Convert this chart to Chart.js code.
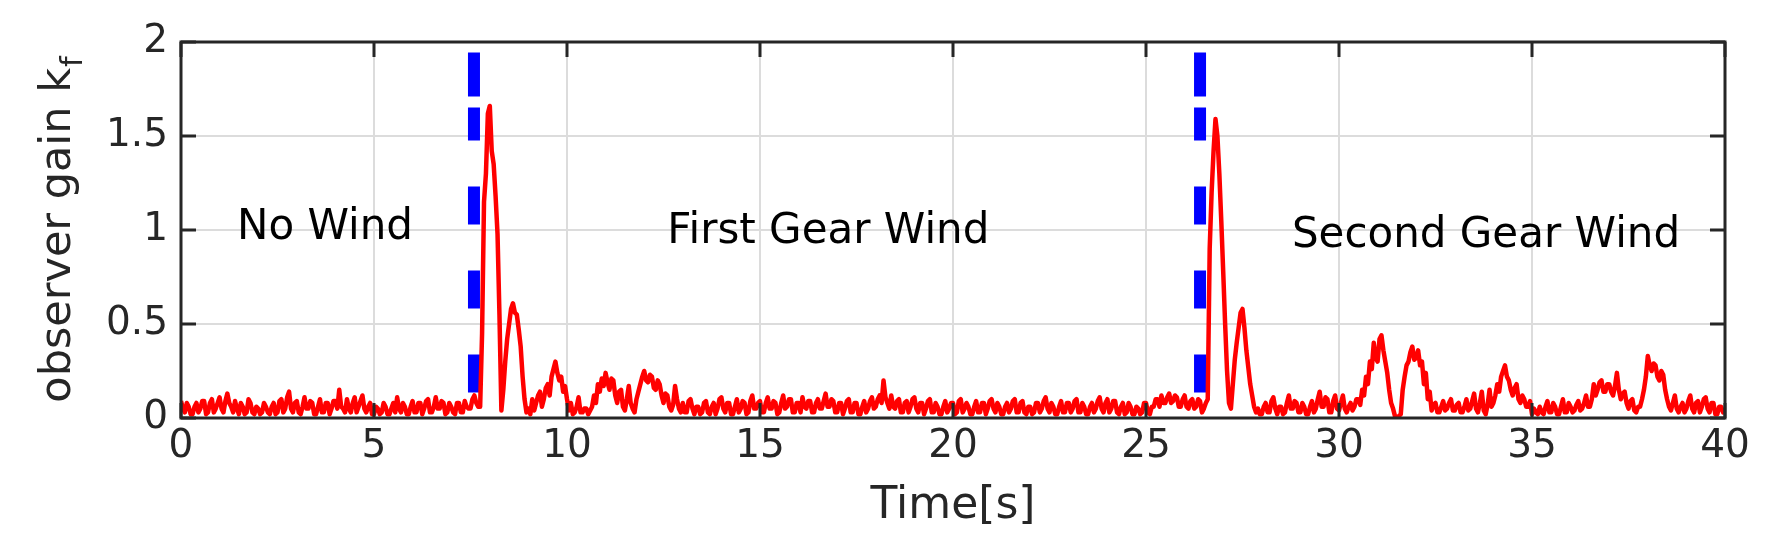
<!DOCTYPE html>
<html>
<head>
<meta charset="utf-8">
<script src="https://cdn.jsdelivr.net/npm/chart.js@4.4.0/dist/chart.umd.min.js"></script>
<style>
  html, body { margin: 0; padding: 0; background: #ffffff; }
  canvas { display: block; }
</style>
</head>
<body>
<canvas id="chart" width="1776" height="553"></canvas>
<script>
// ---- data ----
const sampleStep = 0.05;               // seconds between samples
const segmentStart = [0, 7.8, 26.65];  // start time of each segment [s]

// observer gain k_f, 0.00 s ... 7.75 s (one row per second)
const gainNoWind = [
  0.09,0.05,0.03,0.08,0.06,0.02,0.02,0.06,0.08,0.03,0.05,0.09,0.09,0.02,0.03,0.08,0.10,0.03,0.05,0.08,
  0.11,0.05,0.03,0.09,0.13,0.08,0.06,0.03,0.09,0.05,0.02,0.08,0.06,0.02,0.03,0.10,0.08,0.03,0.02,0.06,
  0.05,0.02,0.03,0.08,0.06,0.03,0.02,0.06,0.08,0.02,0.03,0.09,0.10,0.03,0.05,0.11,0.14,0.05,0.03,0.08,
  0.09,0.03,0.02,0.06,0.11,0.05,0.05,0.09,0.08,0.02,0.02,0.06,0.10,0.03,0.03,0.08,0.08,0.02,0.05,0.09,
  0.09,0.05,0.15,0.06,0.05,0.03,0.10,0.05,0.03,0.08,0.11,0.03,0.06,0.09,0.12,0.05,0.03,0.06,0.08,0.02,
  0.02,0.06,0.05,0.02,0.03,0.08,0.06,0.02,0.02,0.05,0.08,0.03,0.11,0.05,0.03,0.08,0.06,0.02,0.02,0.06,
  0.09,0.03,0.03,0.08,0.08,0.02,0.05,0.09,0.10,0.03,0.03,0.06,0.11,0.05,0.05,0.09,0.08,0.02,0.03,0.08,
  0.06,0.03,0.02,0.08,0.08,0.03,0.03,0.09,0.06,0.05,0.05,0.10,0.12,0.08,0.06,0.06
];

// observer gain k_f, 7.80 s ... 26.60 s
const gainFirstGear = [
  0.45,1.15,1.30,1.62,
  1.66,1.42,1.35,1.18,0.98,0.55,0.04,0.15,0.30,0.42,0.50,0.58,0.61,0.56,0.55,0.47,0.38,0.22,0.10,0.03,
  0.05,0.02,0.10,0.04,0.08,0.12,0.14,0.06,0.10,0.16,0.18,0.12,0.22,0.26,0.30,0.24,0.20,0.22,0.14,0.17,
  0.10,0.04,0.08,0.02,0.03,0.06,0.11,0.03,0.03,0.05,0.05,0.02,0.04,0.06,0.12,0.08,0.18,0.14,0.21,0.17,
  0.24,0.19,0.15,0.21,0.20,0.12,0.08,0.14,0.15,0.06,0.04,0.10,0.17,0.08,0.05,0.03,0.10,0.14,0.18,0.22,
  0.25,0.20,0.19,0.23,0.22,0.16,0.15,0.20,0.18,0.12,0.08,0.13,0.12,0.06,0.04,0.07,0.17,0.10,0.05,0.03,
  0.08,0.03,0.03,0.09,0.10,0.05,0.02,0.06,0.06,0.02,0.03,0.08,0.09,0.03,0.02,0.06,0.08,0.02,0.05,0.10,
  0.11,0.05,0.03,0.08,0.08,0.02,0.02,0.06,0.10,0.03,0.05,0.09,0.08,0.02,0.03,0.09,0.12,0.05,0.05,0.08,
  0.09,0.03,0.03,0.08,0.11,0.05,0.05,0.09,0.08,0.02,0.03,0.08,0.12,0.05,0.06,0.10,0.10,0.03,0.03,0.08,
  0.08,0.03,0.11,0.06,0.05,0.09,0.09,0.03,0.03,0.08,0.10,0.05,0.05,0.09,0.13,0.06,0.06,0.10,0.09,0.03,
  0.03,0.08,0.08,0.02,0.05,0.09,0.10,0.03,0.03,0.08,0.08,0.02,0.02,0.06,0.09,0.03,0.05,0.09,0.11,0.05,
  0.06,0.10,0.12,0.08,0.20,0.11,0.08,0.05,0.12,0.06,0.05,0.09,0.10,0.03,0.03,0.08,0.09,0.03,0.06,0.10,
  0.11,0.05,0.03,0.08,0.08,0.02,0.05,0.09,0.10,0.03,0.03,0.08,0.06,0.02,0.02,0.06,0.09,0.03,0.05,0.08,
  0.08,0.02,0.03,0.09,0.10,0.03,0.05,0.08,0.06,0.02,0.02,0.06,0.09,0.03,0.03,0.08,0.08,0.02,0.05,0.09,
  0.10,0.05,0.03,0.08,0.06,0.02,0.02,0.06,0.08,0.03,0.05,0.09,0.10,0.03,0.03,0.08,0.09,0.03,0.02,0.06,
  0.06,0.02,0.03,0.08,0.08,0.03,0.05,0.09,0.11,0.05,0.03,0.08,0.06,0.02,0.02,0.06,0.09,0.03,0.03,0.08,
  0.08,0.03,0.05,0.09,0.10,0.03,0.03,0.08,0.06,0.02,0.02,0.06,0.08,0.03,0.05,0.09,0.11,0.05,0.03,0.08,
  0.10,0.03,0.05,0.09,0.09,0.03,0.02,0.06,0.08,0.02,0.03,0.08,0.06,0.02,0.02,0.06,0.05,0.02,0.03,0.08,
  0.08,0.03,0.02,0.06,0.06,0.10,0.10,0.06,0.12,0.08,0.08,0.11,0.13,0.08,0.09,0.12,0.11,0.06,0.06,0.10,
  0.12,0.06,0.05,0.09,0.10,0.05,0.06,0.10,0.09,0.03,0.05,0.08,0.10
];

// observer gain k_f, 26.65 s ... 40.00 s
const gainSecondGear = [
  0.90,1.20,1.42,1.59,1.50,1.30,1.05,
  0.78,0.50,0.25,0.08,0.05,0.18,0.31,0.40,0.48,0.56,0.58,0.48,0.36,0.27,0.18,0.12,0.06,0.03,0.05,0.02,
  0.02,0.06,0.08,0.03,0.03,0.09,0.11,0.05,0.02,0.06,0.06,0.02,0.03,0.08,0.12,0.05,0.05,0.09,0.08,0.03,
  0.03,0.08,0.06,0.02,0.02,0.06,0.09,0.03,0.05,0.10,0.14,0.06,0.06,0.11,0.10,0.03,0.03,0.09,0.12,0.05,
  0.04,0.08,0.12,0.05,0.03,0.06,0.08,0.04,0.06,0.10,0.10,0.07,0.15,0.12,0.22,0.18,0.30,0.26,0.40,0.32,
  0.30,0.42,0.44,0.36,0.30,0.24,0.15,0.08,0.05,0.01,0.00,0.01,0.02,0.15,0.22,0.28,0.30,0.35,0.38,0.31,
  0.32,0.36,0.28,0.30,0.18,0.24,0.10,0.14,0.04,0.07,0.08,0.03,0.03,0.06,0.09,0.04,0.05,0.08,0.10,0.04,
  0.04,0.07,0.08,0.03,0.03,0.06,0.10,0.04,0.05,0.09,0.13,0.05,0.03,0.08,0.14,0.04,0.02,0.07,0.15,0.06,
  0.08,0.12,0.18,0.14,0.22,0.25,0.28,0.22,0.20,0.15,0.12,0.16,0.18,0.10,0.08,0.12,0.10,0.06,0.06,0.09,
  0.02,0.05,0.03,0.02,0.06,0.03,0.02,0.06,0.09,0.03,0.03,0.08,0.06,0.02,0.02,0.06,0.10,0.03,0.03,0.08,
  0.06,0.03,0.04,0.07,0.09,0.04,0.05,0.08,0.12,0.06,0.06,0.10,0.18,0.12,0.15,0.19,0.20,0.14,0.14,0.18,
  0.18,0.14,0.12,0.17,0.24,0.15,0.10,0.13,0.14,0.08,0.05,0.09,0.10,0.04,0.03,0.06,0.06,0.10,0.15,0.22,
  0.33,0.28,0.25,0.29,0.28,0.22,0.20,0.25,0.23,0.15,0.10,0.06,0.04,0.08,0.12,0.05,0.03,0.06,0.08,0.03,
  0.05,0.09,0.12,0.05,0.03,0.08,0.09,0.03,0.06,0.10,0.11,0.05,0.03,0.08,0.08,0.02,0.02,0.06,0.06,0.03,
  0.04
];

// wind switching instants (blue dashed markers)
const windChangeTimes = [7.59, 26.4];
const windMarkerRange = [1.944, 0.135];

// region annotations
const regionLabels = ['No Wind', 'First Gear Wind', 'Second Gear Wind'];
const regionLabelX = [1.45, 12.6, 28.78];
const regionLabelY = [1.01, 0.99, 0.97];

// axes
const xTicks = [0, 5, 10, 15, 20, 25, 30, 35, 40];
const yTicks = [0, 0.5, 1, 1.5, 2];
const xAxisTitle = 'Time[s]';
const yAxisTitle = 'observer gain k';
const yAxisSubscript = 'f';

// ---- build datasets ----
function toPoints(values, start) {
  return values.map((v, i) => ({ x: Math.round((start + i * sampleStep) * 1000) / 1000, y: v }));
}
const gainPoints = [].concat(
  toPoints(gainNoWind, segmentStart[0]),
  toPoints(gainFirstGear, segmentStart[1]),
  toPoints(gainSecondGear, segmentStart[2])
);

const FONT = '"DejaVu Sans", "Liberation Sans", sans-serif';
const AXIS_COLOR = '#262626';

const markerDatasets = windChangeTimes.map(t => ({
  data: [{ x: t, y: windMarkerRange[0] }, { x: t, y: windMarkerRange[1] }],
  borderColor: '#0000ff',
  borderWidth: 12,
  borderDash: [44, 11, 33, 46, 38, 46, 38, 46, 39, 400],
  borderCapStyle: 'butt',
  pointRadius: 0,
  fill: false
}));

const framePlugin = {
  id: 'framePlugin',
  afterDatasetsDraw(chart) {
    const { ctx, chartArea: a, scales: { x, y } } = chart;
    ctx.save();
    // region annotations
    ctx.fillStyle = '#000000';
    ctx.font = '42px ' + FONT;
    ctx.textAlign = 'left';
    ctx.textBaseline = 'middle';
    regionLabels.forEach((txt, i) => {
      ctx.fillText(txt, x.getPixelForValue(regionLabelX[i]), y.getPixelForValue(regionLabelY[i]));
    });
    // inward ticks on all four sides
    ctx.strokeStyle = AXIS_COLOR;
    ctx.lineWidth = 3;
    ctx.lineCap = 'butt';
    ctx.beginPath();
    const tl = 15;
    xTicks.forEach(v => {
      const px = x.getPixelForValue(v);
      ctx.moveTo(px, a.bottom); ctx.lineTo(px, a.bottom - tl);
      ctx.moveTo(px, a.top); ctx.lineTo(px, a.top + tl);
    });
    yTicks.forEach(v => {
      const py = y.getPixelForValue(v);
      ctx.moveTo(a.left, py); ctx.lineTo(a.left + tl, py);
      ctx.moveTo(a.right, py); ctx.lineTo(a.right - tl, py);
    });
    ctx.stroke();
    // box
    ctx.strokeRect(a.left, a.top, a.right - a.left, a.bottom - a.top);
    ctx.restore();
  },
  afterDraw(chart) {
    const { ctx, chartArea: a } = chart;
    ctx.save();
    ctx.fillStyle = AXIS_COLOR;
    ctx.translate(0, (a.top + a.bottom) / 2);
    ctx.rotate(-Math.PI / 2);
    ctx.font = '43px ' + FONT;
    const wMain = ctx.measureText(yAxisTitle).width;
    ctx.font = '30px ' + FONT;
    const wSub = ctx.measureText(yAxisSubscript).width;
    const start = -(wMain + wSub) / 2;
    ctx.textAlign = 'left';
    ctx.textBaseline = 'alphabetic';
    ctx.font = '43px ' + FONT;
    ctx.fillText(yAxisTitle, start, 70);
    ctx.font = '30px ' + FONT;
    ctx.fillText(yAxisSubscript, start + wMain + 1, 82);
    ctx.restore();
  }
};

new Chart(document.getElementById('chart'), {
  type: 'line',
  data: {
    datasets: [
      {
        data: gainPoints,
        borderColor: '#ff0000',
        borderWidth: 4.5,
        borderJoinStyle: 'round',
        pointRadius: 0,
        tension: 0,
        fill: false
      },
      ...markerDatasets
    ]
  },
  options: {
    responsive: false,
    animation: false,
    devicePixelRatio: 1,
    parsing: false,
    layout: { padding: { top: 42, right: 51, left: 0, bottom: 0 } },
    plugins: { legend: { display: false }, tooltip: { enabled: false } },
    scales: {
      x: {
        type: 'linear',
        min: 0,
        max: 40,
        afterBuildTicks: s => { s.ticks = xTicks.map(v => ({ value: v })); },
        afterFit: s => { s.height = 135; },
        grid: { color: '#dcdcdc', lineWidth: 2, drawTicks: false },
        border: { display: false },
        ticks: { color: AXIS_COLOR, font: { family: FONT, size: 39 }, padding: 5, maxRotation: 0, callback: v => String(v) },
        title: { display: true, text: xAxisTitle, color: AXIS_COLOR, font: { family: FONT, size: 44 }, padding: { top: 0, bottom: 20 } }
      },
      y: {
        type: 'linear',
        min: 0,
        max: 2,
        afterBuildTicks: s => { s.ticks = yTicks.map(v => ({ value: v })); },
        afterFit: s => { s.width = 181; },
        grid: { color: '#dcdcdc', lineWidth: 2, drawTicks: false },
        border: { display: false },
        ticks: { color: AXIS_COLOR, font: { family: FONT, size: 39 }, padding: 13, callback: v => String(v) }
      }
    }
  },
  plugins: [framePlugin]
});
</script>
</body>
</html>
